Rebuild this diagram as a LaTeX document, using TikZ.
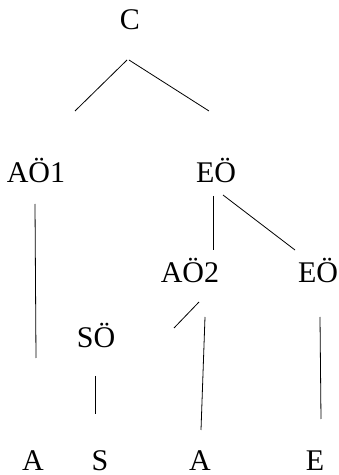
\documentclass[tikz,border=0pt]{standalone}
\usepackage{fontspec}
\setmainfont{Liberation Serif}
\begin{document}
\begin{tikzpicture}[x=1pt,y=1pt,
  lab/.style={anchor=base,inner sep=0pt,font=\fontsize{30}{36}\selectfont},
  edge/.style={line width=0.8pt}]
\useasboundingbox (0,0) rectangle (339,475);
\node[lab] (C) at (130,445) {C};
\node[lab] (AO1) at (36,292) {AÖ1};
\node[lab] (EO) at (216,292) {EÖ};
\node[lab] (AO2) at (190,192) {AÖ2};
\node[lab] (EO2) at (318,192) {EÖ};
\node[lab] (SO) at (96,128) {SÖ};
\node[lab] (A1) at (33,5) {A};
\node[lab] (S) at (100,5) {S};
\node[lab] (A2) at (200,5) {A};
\node[lab] (E) at (315,5) {E};
\draw[edge] ([shift={(-3,-30)}]C.base) -- ([shift={(39,72)}]AO1.base);
\draw[edge] ([shift={(-1,-30)}]C.base) -- ([shift={(-7,72)}]EO.base);
\draw[edge] ([shift={(-1,-21)}]AO1.base) -- ([shift={(3,112)}]A1.base);
\draw[edge] ([shift={(-3,-13)}]EO.base) -- ([shift={(23,33)}]AO2.base);
\draw[edge] ([shift={(7,-12)}]EO.base) -- ([shift={(-23,33)}]EO2.base);
\draw[edge] ([shift={(9,-19)}]AO2.base) -- ([shift={(78,19)}]SO.base);
\draw[edge] ([shift={(15,-34)}]AO2.base) -- ([shift={(1,40)}]A2.base);
\draw[edge] ([shift={(-1,-29)}]SO.base) -- ([shift={(-5,56)}]S.base);
\draw[edge] ([shift={(2,-34)}]EO2.base) -- ([shift={(6,51)}]E.base);
\end{tikzpicture}
\end{document}
